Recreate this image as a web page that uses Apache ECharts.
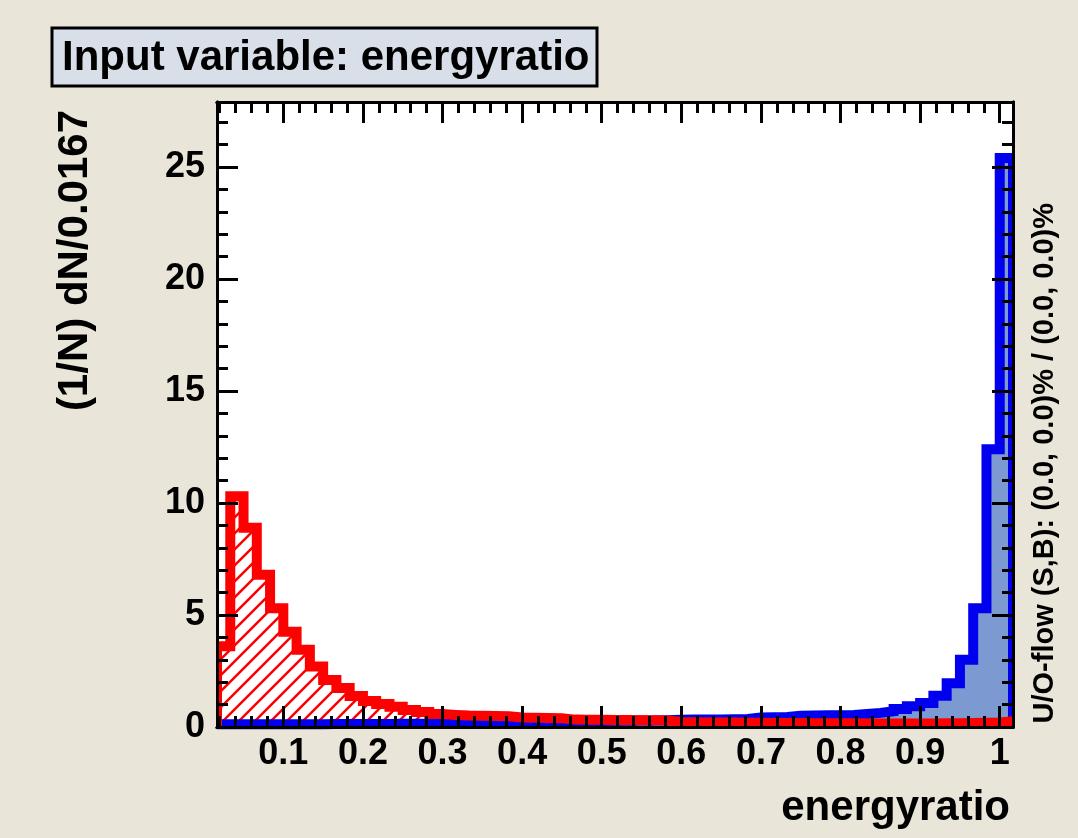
<!DOCTYPE html>
<html>
<head>
<meta charset="utf-8">
<script src="https://cdn.jsdelivr.net/npm/echarts@6/dist/echarts.min.js"></script>
<style>
html, body { margin: 0; padding: 0; background: #e9e5d8; }
#chart { width: 1078px; height: 838px; }
</style>
</head>
<body>
<div id="chart"></div>
<script>
// histogram binning: 60 bins of width 1/60
var binLow = 1 / 60;
var binWidth = 1 / 60;

// signal (blue), one value per bin
var signal = [
	0.12, 0.12, 0.12, 0.12, 0.12, 0.12, 0.12, 0.12, 0.13, 0.13, 0.13, 0.13, 0.13, 0.14, 0.14, 0.14, 0.14, 0.15, 0.15, 0.15, 0.16, 0.16,
	0.24, 0.25, 0.25, 0.26, 0.26, 0.27, 0.27, 0.28, 0.28, 0.29, 0.29, 0.3,
	0.32, 0.33, 0.33, 0.34, 0.35, 0.36,
	0.42, 0.44, 0.45,
	0.5, 0.51, 0.52, 0.53, 0.54,
	0.58, 0.63, 0.7, 0.8, 0.93, 1.07, 1.4, 1.95, 3.0, 5.3, 12.4, 25.4
];

// background (red), one value per bin
var background = [
	3.6, 10.3, 8.9, 6.8, 5.3, 4.25, 3.45, 2.7, 2.1, 1.74,
	1.38, 1.16, 1.03, 0.9, 0.76, 0.67, 0.58, 0.54, 0.51, 0.5,
	0.49, 0.48, 0.42, 0.41, 0.4, 0.39, 0.33, 0.32, 0.32, 0.31,
	0.31, 0.3, 0.3, 0.29, 0.22, 0.21, 0.2, 0.2, 0.2, 0.19,
	0.19, 0.18, 0.18, 0.18, 0.17, 0.17, 0.17, 0.17, 0.16, 0.16,
	0.16, 0.16, 0.16, 0.16, 0.17, 0.17, 0.18, 0.19, 0.2, 0.26
];

var xLabels = [0.1, 0.2, 0.3, 0.4, 0.5, 0.6, 0.7, 0.8, 0.9, 1];
var yLabels = [0, 5, 10, 15, 20, 25];
var yMax = 27.9;

var xMinor = [];
for (var k = 1; k <= 50; k++) xMinor.push(k * 0.02);
var yMinor = [];
for (var k = 0; k <= 27; k++) yMinor.push(k);

var xMin = binLow;
var xMax = binLow + signal.length * binWidth;

var bgColor = '#e9e5d8';

function histPoints(values)
{
	var pts = [[xMin, 0]];
	for (var i = 0; i < values.length; i++)
		pts.push([binLow + i * binWidth, values[i]]);
	pts.push([xMax, values[values.length - 1]]);
	pts.push([xMax, 0]);
	return pts;
}

function hatchPattern()
{
	var s = 16;
	var c = document.createElement('canvas');
	c.width = s;
	c.height = s;
	var g = c.getContext('2d');
	g.strokeStyle = '#ff0000';
	g.lineWidth = 2.5;
	g.beginPath();
	g.moveTo(-2, s + 2); g.lineTo(s + 2, -2);
	g.moveTo(-2, 2); g.lineTo(2, -2);
	g.moveTo(s - 2, s + 2); g.lineTo(s + 2, s - 2);
	g.stroke();
	return c;
}

var font = 'Liberation Sans';

function xAxisDef(pos, ticks, len, labels)
{
	return {
		type: 'value', position: pos, min: xMin, max: xMax, z: 10,
		axisLine: { show: true, onZero: false, lineStyle: { color: '#000', width: 3 } },
		axisTick: { show: true, inside: true, length: len, customValues: ticks, lineStyle: { color: '#000', width: 3 } },
		axisLabel: labels ? { show: true, customValues: xLabels, margin: 9, color: '#000', fontFamily: font, fontWeight: 'bold', fontSize: 36 } : { show: false },
		splitLine: { show: false }
	};
}

function yAxisDef(pos, ticks, len, labels)
{
	return {
		type: 'value', position: pos, min: 0, max: yMax, z: 10,
		axisLine: { show: true, onZero: false, lineStyle: { color: '#000', width: 3 } },
		axisTick: { show: true, inside: true, length: len, customValues: ticks, lineStyle: { color: '#000', width: 3 } },
		axisLabel: labels ? { show: true, customValues: yLabels, margin: 12, color: '#000', fontFamily: font, fontWeight: 'bold', fontSize: 36 } : { show: false },
		splitLine: { show: false }
	};
}

var chart = echarts.init(document.getElementById('chart'));

var options =
{
	animation: false,
	backgroundColor: bgColor,
	grid: { left: 217, right: 65, top: 102, bottom: 111, show: true, backgroundColor: '#ffffff', borderWidth: 0, outerBoundsMode: 'none' },
	xAxis:
	[
		xAxisDef('bottom', xLabels, 21, true),
		xAxisDef('bottom', xMinor, 11, false),
		xAxisDef('top', xLabels, 21, false),
		xAxisDef('top', xMinor, 11, false)
	],
	yAxis:
	[
		yAxisDef('left', yLabels, 21, true),
		yAxisDef('left', yMinor, 11, false),
		yAxisDef('right', yLabels, 21, false),
		yAxisDef('right', yMinor, 11, false)
	],
	series:
	[
		{
			name: 'Signal', type: 'line', step: 'end', symbol: 'none', silent: true,
			xAxisIndex: 0, yAxisIndex: 0, clip: true,
			data: histPoints(signal),
			lineStyle: { color: '#0000ee', width: 10, join: 'miter' },
			areaStyle: { color: '#7d99d1', opacity: 1 }
		},
		{
			name: 'Background', type: 'line', step: 'end', symbol: 'none', silent: true,
			xAxisIndex: 0, yAxisIndex: 0, clip: true,
			data: histPoints(background),
			lineStyle: { color: '#ff0000', width: 10, join: 'miter' },
			areaStyle: { color: { image: hatchPattern(), repeat: 'repeat' }, opacity: 1 }
		}
	],
	graphic:
	[
		// hide the half of the outline that spills past the left / right frame
		{
			type: 'rect', z: 5, shape: { x: 207, y: 95, width: 9, height: 638 },
			style: { fill: bgColor }
		},
		{
			type: 'rect', z: 5, shape: { x: 1014, y: 95, width: 10, height: 638 },
			style: { fill: bgColor }
		},
		{
			type: 'rect', shape: { x: 52, y: 28, width: 545, height: 58 },
			style: { fill: '#d9dfe8', stroke: '#000', lineWidth: 3 }
		},
		{
			type: 'text', x: 62, y: 58,
			style: { text: 'Input variable: energyratio', fill: '#000', font: 'bold 42px "Liberation Sans"', textAlign: 'left', textVerticalAlign: 'middle' }
		},
		{
			type: 'text', x: 75, y: 110, rotation: Math.PI / 2,
			style: { text: '(1/N) dN/0.0167', fill: '#000', font: 'bold 42px "Liberation Sans"', textAlign: 'right', textVerticalAlign: 'middle' }
		},
		{
			type: 'text', x: 1045, y: 203, rotation: Math.PI / 2,
			style: { text: 'U/O-flow (S,B): (0.0, 0.0)% / (0.0, 0.0)%', fill: '#000', font: 'bold 29px "Liberation Sans"', textAlign: 'right', textVerticalAlign: 'middle' }
		},
		{
			type: 'text', x: 1010, y: 808,
			style: { text: 'energyratio', fill: '#000', font: 'bold 42px "Liberation Sans"', textAlign: 'right', textVerticalAlign: 'middle' }
		}
	]
};

chart.setOption(options);
</script>
</body>
</html>
